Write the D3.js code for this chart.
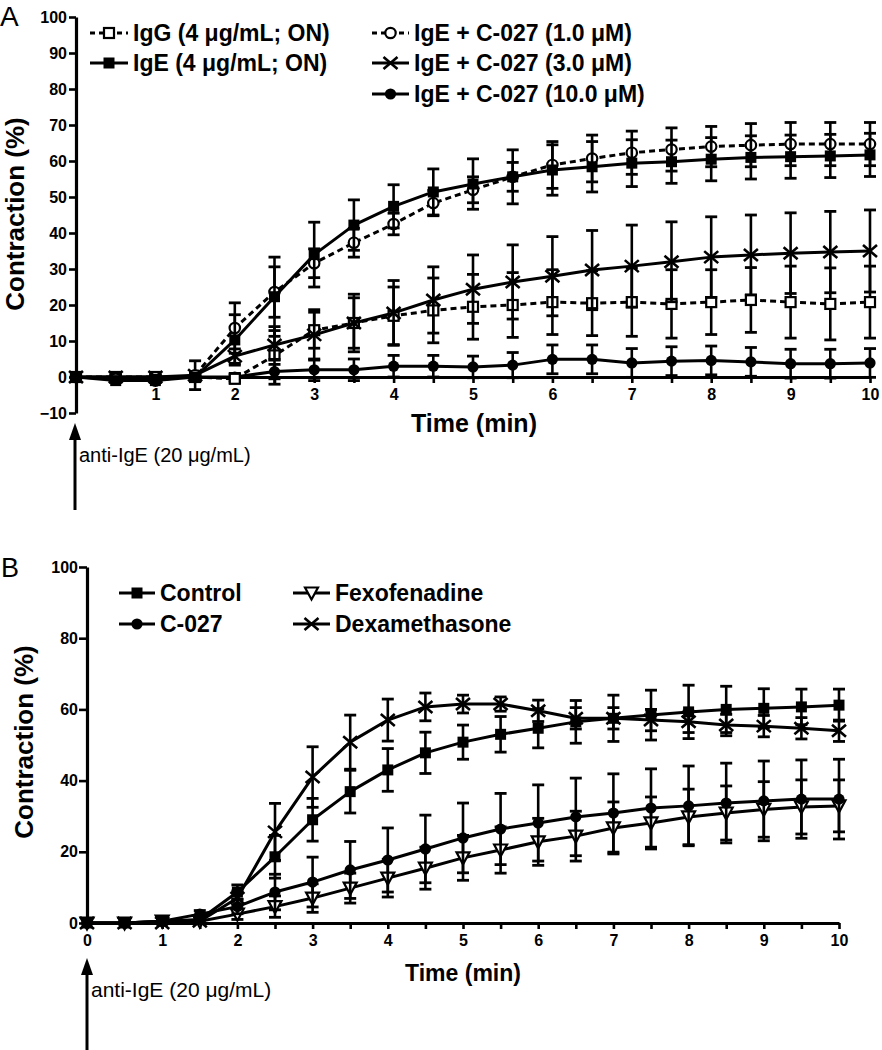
<!DOCTYPE html>
<html><head><meta charset="utf-8">
<script src="https://cdn.jsdelivr.net/npm/d3@7"></script>
<style>
body{margin:0;background:#fff}
svg{display:block}
text{font-family:"Liberation Sans",Arial,sans-serif;fill:#000}
</style>
</head><body>
<svg id="c" width="882" height="1050"></svg>
<script>
// ---------- DATA ----------
const time = [0,0.5,1,1.5,2,2.5,3,3.5,4,4.5,5,5.5,6,6.5,7,7.5,8,8.5,9,9.5,10];

// Panel A
const igG     = [0,0,0,0,-0.5,6,13,15,17,18.5,19.5,20,20.8,20.5,20.8,20.3,20.8,21.4,20.8,20.3,20.8];
const igGErr  = [0,0.5,0.5,1,1,8,5,7,8,9,9,9,9,9,9.5,9.5,9,9,10,10,10];
const igE     = [0,-1,-1,0,10.3,22.3,34,42.2,47.4,51.4,53.6,55.6,57.5,58.4,59.4,59.8,60.5,61,61.2,61.4,61.7];
const igEErr  = [0,0.5,0.5,1,7,11,9,7,6,6.4,7,7.5,7,7,6.5,6,6,6,6,6,6];
const c1      = [0,-0.5,-1,0.5,13.6,23.6,31.6,37.3,42.5,48.3,52,55.6,58.9,60.7,62.3,63.2,64,64.4,64.7,64.7,64.7];
const c1Err   = [0,0.5,0.5,4,7,7,4,4,3,3.5,3.6,4,6.5,6.5,6,6,5.6,6,6,6,6];
const c3      = [0,0,0,0.5,5.8,8.9,11.7,15,17.8,21.4,24.4,26.4,28,29.7,30.8,32,33.3,33.9,34.4,34.7,35];
const c3Err   = [0,0.5,0.5,1,2,4,7,8,9,9.2,9.5,10.3,11,11,11.4,11.1,11.2,11.1,11.2,11.3,11.4];
const c10     = [0,0,0,0,0,1.5,2,2,3,3,2.8,3.3,4.9,4.9,3.9,4.4,4.6,4.2,3.7,3.7,3.9];
const c10Err  = [0,0.5,0.5,0.5,1,2,3,3,3,3,3,3.5,4,4,4,4,4,4,4,4,4];

// Panel B
const control    = [0,0,0.5,1,8.7,18.6,29,36.9,43,47.8,50.8,53,54.7,56.5,57.5,58.4,59.3,60,60.3,60.7,61.2];
const controlErr = [0,0.3,0.5,1,2,6,6,6,6,5.8,4.8,5,5.5,6,6.5,7,7.5,6.5,5.5,5,4.5];
const c027       = [0,0,0.5,2.5,4.6,8.7,11.5,14.9,17.7,20.8,23.9,26.4,28.1,29.8,30.9,32.3,32.9,33.7,34.3,34.8,34.8];
const c027Err    = [0,0.3,0.5,1,2,5,7,8,9,9.5,9.8,10,10.7,10.9,11,11,11.2,11.2,11.2,11,11.2];
const fexo       = [0,0,0.5,0.5,2.5,4.6,7,9.8,12.6,15.4,18.3,20.5,22.8,24.4,26.7,28.1,29.8,30.9,31.9,32.6,32.9];
const fexoErr    = [0,0.3,0.3,0.5,1.5,3,4,4.2,5.3,5.9,6.3,6.5,6.6,7,7.3,7.3,7.8,7.6,7.8,7.6,7.3];
const dexa       = [0,0,0,0.5,7,25.6,41,50.8,57,60.7,61.5,61.5,59.6,57.5,57.5,57,56.5,55.6,55.3,54.7,54];
const dexaErr    = [0,0.3,0.3,0.5,2,8,8.5,7.6,5.9,3.9,2.5,2,3,3,3,3,3,3,3,3,3];

// Ticks & labels
const yTicksA = [-10,0,10,20,30,40,50,60,70,80,90,100];
const yTicksB = [0,20,40,60,80,100];
const xTicks = [0,0.5,1,1.5,2,2.5,3,3.5,4,4.5,5,5.5,6,6.5,7,7.5,8,8.5,9,9.5,10];
const xLabel = "Time (min)";
const yLabel = "Contraction (%)";
const arrowLabel = "anti-IgE (20 \u03bcg/mL)";
const legendA = ["IgG (4 \u03bcg/mL; ON)","IgE (4 \u03bcg/mL; ON)","IgE + C-027 (1.0 \u03bcM)","IgE + C-027 (3.0 \u03bcM)","IgE + C-027 (10.0 \u03bcM)"];
const legendB = ["Control","C-027","Fexofenadine","Dexamethasone"];

// ---------- DRAW ----------
const svg = d3.select('#c');
const LW = 3;

function marker(g, type, x, y){
  const s = 5.5;
  if(type==='sqFill') g.append('rect').attr('x',x-s).attr('y',y-s).attr('width',2*s).attr('height',2*s).attr('fill','#000');
  else if(type==='sqOpen') g.append('rect').attr('x',x-5).attr('y',y-5).attr('width',10).attr('height',10).attr('fill','#fff').attr('stroke','#000').attr('stroke-width',2.2);
  else if(type==='cirOpen') g.append('circle').attr('cx',x).attr('cy',y).attr('r',5.2).attr('fill','#fff').attr('stroke','#000').attr('stroke-width',2.2);
  else if(type==='cirFill') g.append('circle').attr('cx',x).attr('cy',y).attr('r',5.6).attr('fill','#000');
  else if(type==='cross'){
    g.append('path').attr('d',`M${x-7},${y-6}L${x+7},${y+6}M${x-7},${y+6}L${x+7},${y-6}`).attr('stroke','#000').attr('stroke-width',2.6).attr('fill','none');
  } else if(type==='triDown'){
    g.append('path').attr('d',`M${x-6.5},${y-5.5}L${x+6.5},${y-5.5}L${x},${y+6.5}Z`).attr('fill','#fff').attr('stroke','#000').attr('stroke-width',2.2);
  }
}

function series(g, xs, ys, vals, errs, type, dashed){
  const sg = g.append('g');
  vals.forEach((v,i)=>{
    const e = errs[i]; if(!e) return;
    const x = xs(time[i]), y1 = ys(v-e), y2 = ys(v+e);
    sg.append('line').attr('x1',x).attr('x2',x).attr('y1',y1).attr('y2',y2).attr('stroke','#000').attr('stroke-width',2.6);
    [y1,y2].forEach(yy=> sg.append('line').attr('x1',x-6).attr('x2',x+6).attr('y1',yy).attr('y2',yy).attr('stroke','#000').attr('stroke-width',2.8));
  });
  const line = d3.line().x((d,i)=>xs(time[i])).y(d=>ys(d)).curve(d3.curveLinear);
  sg.append('path').attr('d',line(vals)).attr('fill','none').attr('stroke','#000').attr('stroke-width',LW)
    .attr('stroke-linejoin','round').attr('stroke-dasharray', dashed ? '6,4' : null);
  vals.forEach((v,i)=> marker(sg, type, xs(time[i]), ys(v)));
}

function legendItem(g, x1, x2, y, type, dashed, label, fs){
  g.append('line').attr('x1',x1).attr('x2',x2).attr('y1',y).attr('y2',y).attr('stroke','#000').attr('stroke-width',LW)
    .attr('stroke-dasharray', dashed ? '5,4' : null);
  marker(g, type, (x1+x2)/2, y);
  g.append('text').attr('x',x2+5).attr('y',y+8).attr('font-size',fs).attr('font-weight','bold').text(label);
}

function arrow(x, tip, bottom, label, fs){
  svg.append('line').attr('x1',x).attr('x2',x).attr('y1',tip+12).attr('y2',bottom).attr('stroke','#000').attr('stroke-width',3);
  svg.append('path').attr('d',`M${x},${tip}L${x-6},${tip+17}L${x+6},${tip+17}Z`).attr('fill','#000');
  svg.append('text').attr('x',x+4).attr('y',tip+39).attr('font-size',fs).text(label);
}

function styleAxis(a, fs){
  a.select('.domain').attr('stroke-width',3.2);
  a.selectAll('.tick line').attr('stroke-width',2.6);
  a.selectAll('.tick text').attr('font-size',fs).attr('font-weight','bold').attr('font-family','"Liberation Sans",Arial,sans-serif');
}

// ---- Panel A ----
{
  const xA = d3.scaleLinear().domain([0,10]).range([76,870]);
  const yA = d3.scaleLinear().domain([-10,100]).range([413,17]);
  const g = svg.append('g');

  const ya = g.append('g').attr('transform','translate(76,0)')
    .call(d3.axisLeft(yA).tickValues(yTicksA).tickSize(7).tickSizeOuter(0).tickPadding(2));
  styleAxis(ya, 16);

  const xa = g.append('g').attr('transform',`translate(0,${yA(0)})`)
    .call(d3.axisBottom(xA).tickValues(xTicks).tickSize(6).tickSizeOuter(0).tickPadding(6)
      .tickFormat(d => (Number.isInteger(d) && d>0) ? d : ''));
  styleAxis(xa, 16);

  g.append('text').attr('x',474).attr('y',432).attr('text-anchor','middle').attr('font-size',25).attr('font-weight','bold').text(xLabel);
  g.append('text').attr('transform','translate(24,214) rotate(-90)').attr('text-anchor','middle').attr('font-size',26).attr('font-weight','bold').text(yLabel);
  g.append('text').attr('x',0).attr('y',26).attr('font-size',28).text('A');

  series(g, xA, yA, c10, c10Err, 'cirFill', false);
  series(g, xA, yA, igG, igGErr, 'sqOpen', true);
  series(g, xA, yA, c3, c3Err, 'cross', false);
  series(g, xA, yA, c1, c1Err, 'cirOpen', true);
  series(g, xA, yA, igE, igEErr, 'sqFill', false);

  legendItem(g, 90, 128, 33, 'sqOpen', true, legendA[0], 23);
  legendItem(g, 90, 128, 63, 'sqFill', false, legendA[1], 23);
  legendItem(g, 372, 409, 33, 'cirOpen', true, legendA[2], 23);
  legendItem(g, 372, 409, 63, 'cross', false, legendA[3], 23);
  legendItem(g, 372, 409, 94, 'cirFill', false, legendA[4], 23);

  arrow(75, 423, 510, arrowLabel, 20);
}

// ---- Panel B ----
{
  const xB = d3.scaleLinear().domain([0,10]).range([87,839]);
  const yB = d3.scaleLinear().domain([0,100]).range([923,567]);
  const g = svg.append('g');

  const ya = g.append('g').attr('transform','translate(87,0)')
    .call(d3.axisLeft(yB).tickValues(yTicksB).tickSize(8).tickSizeOuter(0).tickPadding(1));
  styleAxis(ya, 16);

  const xa = g.append('g').attr('transform',`translate(0,${yB(0)})`)
    .call(d3.axisBottom(xB).tickValues(xTicks).tickSize(6).tickSizeOuter(0).tickPadding(6)
      .tickFormat(d => Number.isInteger(d) ? d : ''));
  styleAxis(xa, 16);

  g.append('text').attr('x',463).attr('y',981).attr('text-anchor','middle').attr('font-size',23).attr('font-weight','bold').text(xLabel);
  g.append('text').attr('transform','translate(33,742) rotate(-90)').attr('text-anchor','middle').attr('font-size',26).attr('font-weight','bold').text(yLabel);
  g.append('text').attr('x',1).attr('y',577).attr('font-size',27).text('B');

  series(g, xB, yB, fexo, fexoErr, 'triDown', false);
  series(g, xB, yB, c027, c027Err, 'cirFill', false);
  series(g, xB, yB, control, controlErr, 'sqFill', false);
  series(g, xB, yB, dexa, dexaErr, 'cross', false);

  legendItem(g, 119, 155, 593, 'sqFill', false, legendB[0], 23);
  legendItem(g, 119, 155, 624, 'cirFill', false, legendB[1], 23);
  legendItem(g, 293, 330, 593, 'triDown', false, legendB[2], 23);
  legendItem(g, 293, 330, 624, 'cross', false, legendB[3], 23);

  arrow(87, 958, 1050, arrowLabel, 21);
}
</script>
</body></html>
